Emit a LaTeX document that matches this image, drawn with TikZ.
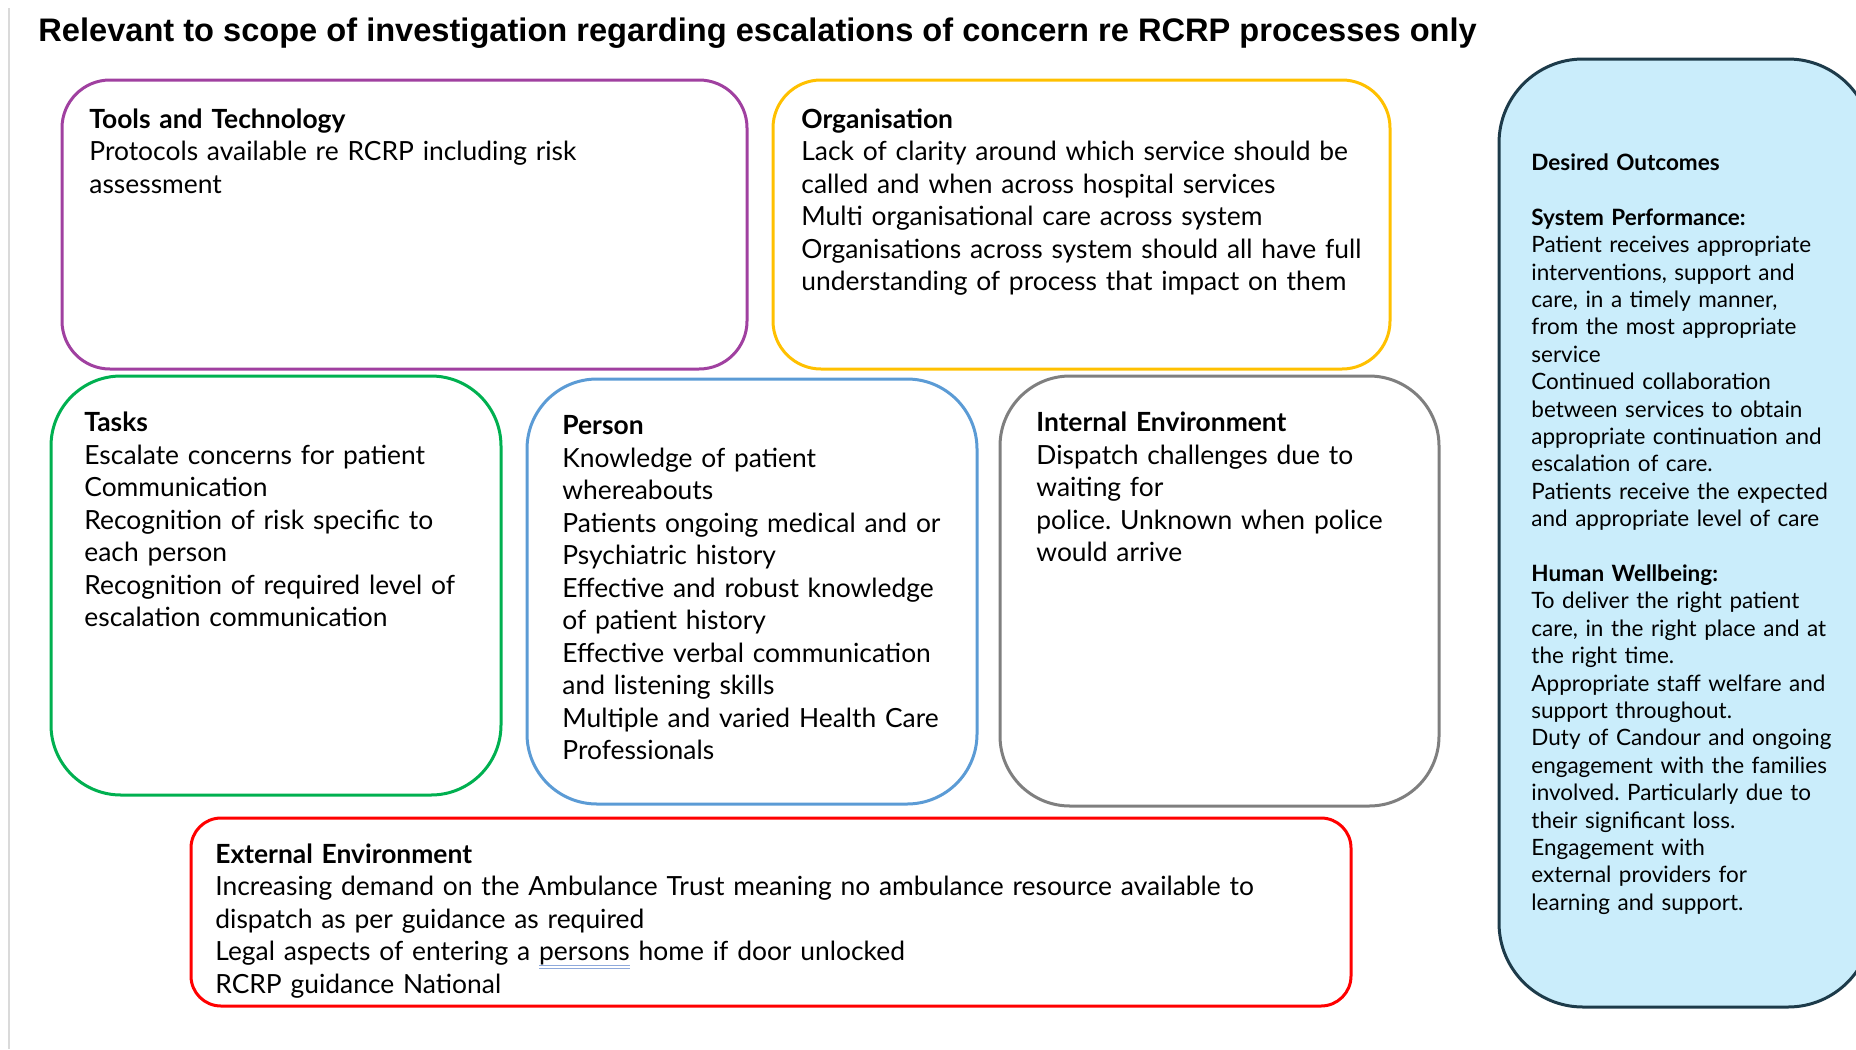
\documentclass[tikz,border=0pt]{standalone}
\usepackage{fontspec}
\setmainfont{Lato}
\newfontfamily\titlefont{Liberation Sans}
\frenchspacing

\definecolor{toolsc}{HTML}{A040A0}
\definecolor{orgc}{HTML}{FFC000}
\definecolor{tasksc}{HTML}{00B050}
\definecolor{personc}{HTML}{5B9BD5}
\definecolor{internc}{HTML}{7F7F7F}
\definecolor{externc}{HTML}{FF0000}
\definecolor{outfill}{HTML}{CAEDFB}
\definecolor{outline}{HTML}{1D3B4A}
\definecolor{gramblue}{HTML}{8EA9DB}
\definecolor{edgegray}{HTML}{DADADA}

% double underline used under a flagged word
\newcommand\gramline[1]{\begingroup\setbox0\hbox{#1}%
  \rlap{\color{gramblue}\raisebox{-0.22em}{\rule{\wd0}{0.45pt}}}%
  \rlap{\color{gramblue}\raisebox{-0.32em}{\rule{\wd0}{0.45pt}}}%
  \box0\endgroup}

\begin{document}
\begin{tikzpicture}[x=0.5pt,y=-0.5pt,
  frame/.style={line width=1.5pt, rounded corners=#1},
  body/.style={anchor=base west, inner sep=0pt, text width=560pt, align=left,
    font=\fontsize{13.2}{16.25}\selectfont},
  small/.style={anchor=base west, inner sep=0pt, text width=200pt, align=left,
    font=\fontsize{11.25}{13.7}\selectfont}]
\useasboundingbox (0,0) rectangle (1856,1049);
\clip (0,0) rectangle (1856,1049);

% thin page edge on the left
\draw[edgegray, line width=0.6pt] (9,8) -- (9,1049);

% title
\node (title) [anchor=base west, inner sep=0pt,
  font=\titlefont\bfseries\fontsize{16.3}{19}\selectfont]
  at (38,41.5) {Relevant to scope of investigation regarding escalations of concern re RCRP processes only};

% framed boxes
\draw[frame=24pt, draw=toolsc]  (62,80)   rectangle (747,369);
\draw[frame=24pt, draw=orgc]    (773,80)  rectangle (1390,369);
\draw[frame=35pt, draw=tasksc]  (51,376)  rectangle (501,795);
\draw[frame=35pt, draw=personc] (527,379) rectangle (977,804);
\draw[frame=35pt, draw=internc] (1000,376) rectangle (1439,806);
\draw[frame=15pt, draw=externc] (191,818) rectangle (1351,1006);
\draw[frame=42pt, draw=outline, fill=outfill] (1499,59) rectangle (1872,1007);

% box texts
\node (tools) [body] at (89,128) {\textbf{Tools and Technology}\\
Protocols available re RCRP including risk\\
assessment};

\node (org) [body] at (801,128) {\textbf{Organisation}\\
Lack of clarity around which service should be\\
called and when across hospital services\\
Multi organisational care across system\\
Organisations across system should all have full\\
understanding of process that impact on them};

\node (tasks) [body] at (84,431.5) {\textbf{Tasks}\\
Escalate concerns for patient\\
Communication\\
Recognition of risk specific to\\
each person\\
Recognition of required level of\\
escalation communication};

\node (person) [body] at (562,434.5) {\textbf{Person}\\
Knowledge of patient\\
whereabouts\\
Patients ongoing medical and or\\
Psychiatric history\\
Effective and robust knowledge\\
of patient history\\
Effective verbal communication\\
and listening skills\\
Multiple and varied Health Care\\
Professionals};

\node (internal) [body] at (1036,431.5) {\textbf{Internal Environment}\\
Dispatch challenges due to\\
waiting for\\
police. Unknown when police\\
would arrive};

\node (external) [body] at (215,863) {\textbf{External Environment}\\
Increasing demand on the Ambulance Trust meaning no ambulance resource available to\\
dispatch as per guidance as required\\
Legal aspects of entering a \gramline{persons} home if door unlocked\\
RCRP guidance National};

\node (outcomes) [small] at (1531,170.5) {\textbf{Desired Outcomes}\\[13.7pt]
\textbf{System Performance:}\\
Patient receives appropriate\\
interventions, support and\\
care, in a timely manner,\\
from the most appropriate\\
service\\
Continued collaboration\\
between services to obtain\\
appropriate continuation and\\
escalation of care.\\
Patients receive the expected\\
and appropriate level of care\\[13.7pt]
\textbf{Human Wellbeing:}\\
To deliver the right patient\\
care, in the right place and at\\
the right time.\\
Appropriate staff welfare and\\
support throughout.\\
Duty of Candour and ongoing\\
engagement with the families\\
involved. Particularly due to\\
their significant loss.\\
Engagement with\\
external providers for\\
learning and support.};
\end{tikzpicture}
\end{document}
